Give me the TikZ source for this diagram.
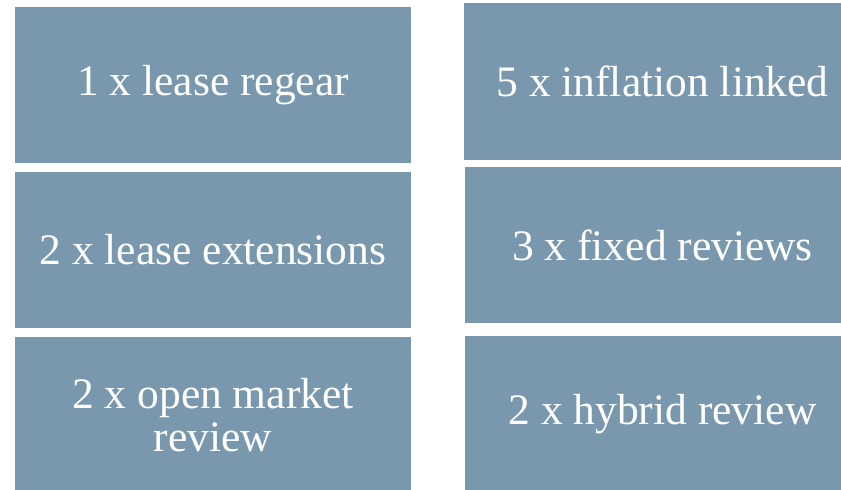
\documentclass[tikz,border=0pt]{standalone}
\usepackage{fontspec}
\setmainfont{Liberation Serif}
\usepackage{tikz}
\usetikzlibrary{positioning}
\definecolor{tileblue}{HTML}{7A98AD}

\tikzset{
    tile/.style={fill=tileblue, text=white, inner sep=0pt, align=center,
        minimum width=396pt, minimum height=156pt,
        font=\fontsize{43.5}{43}\selectfont}
}

\begin{document}
\begin{tikzpicture}[x=1pt, y=-1pt]
        % Page frame
        \useasboundingbox (0,0) rectangle (841,490);
        \clip (0,0) rectangle (841,490);

        % Lease events (left column)
        \node[tile] (regear) at (213,85) {1 x lease regear};
        \node[tile] (extend) at (213,250) {2 x lease extensions};
        \node[tile] (openmkt) at (213,415) {2 x open market\\review};

        % Review types (right column)
        \node[tile, minimum width=397pt, minimum height=157pt] (inflation) at (662.5,81.5) {5 x inflation linked};
        \node[tile] (fixed) at (662.5,245) {3 x fixed reviews};
        \node[tile, minimum height=157pt] (hybrid) at (662.5,414.5) {2 x hybrid review};
    \end{tikzpicture}
\end{document}
